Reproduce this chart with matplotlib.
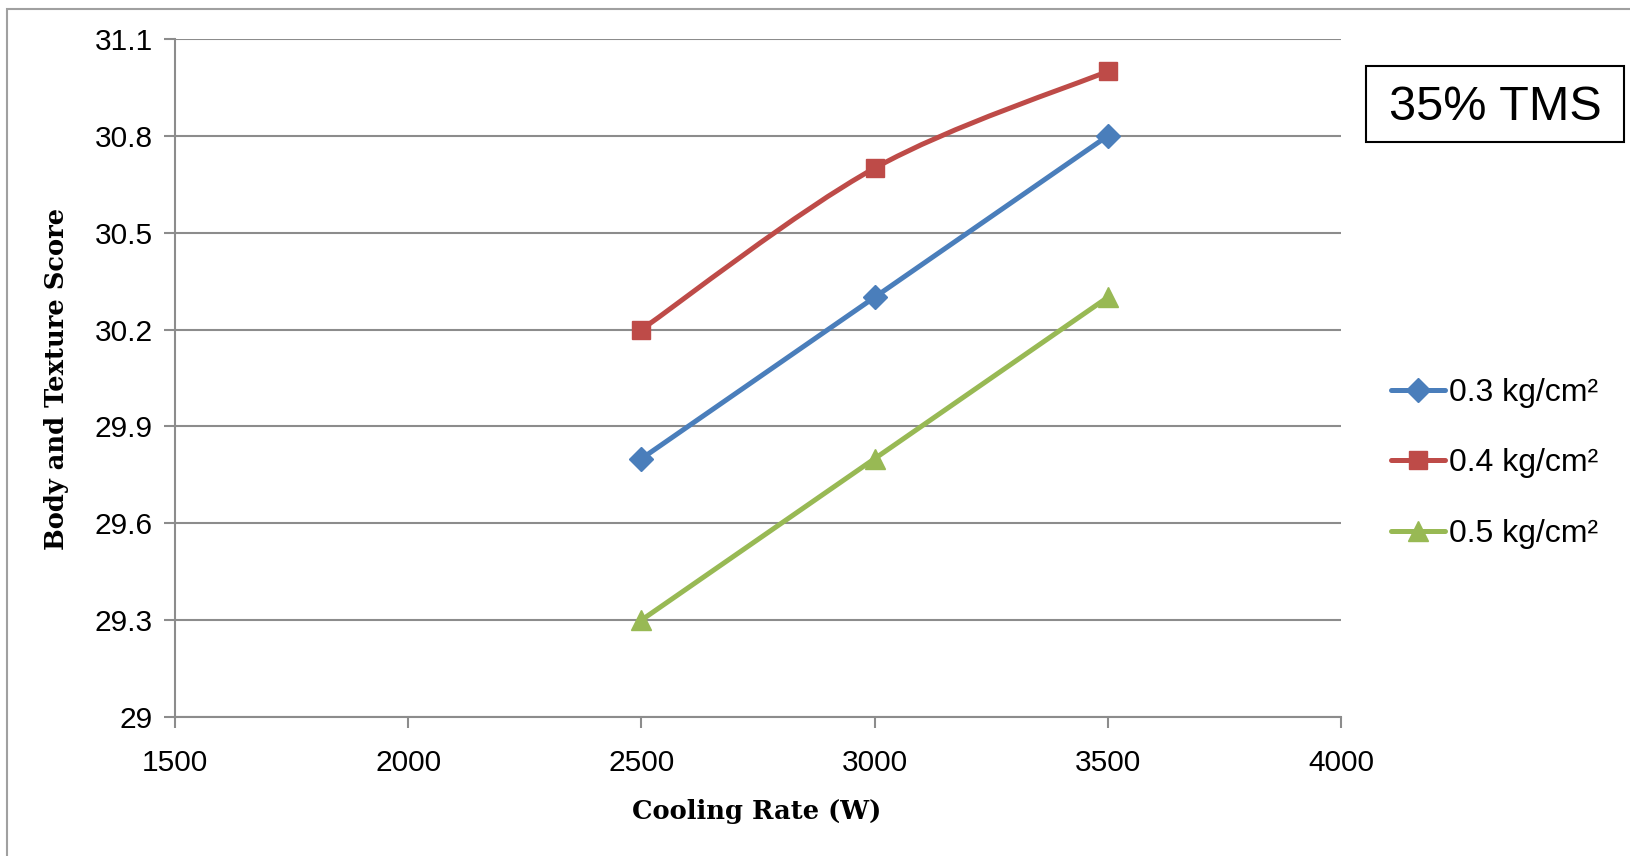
import matplotlib.pyplot as plt
from matplotlib.path import Path
from matplotlib.patches import PathPatch, Rectangle
from matplotlib.lines import Line2D

# data
cooling_rate = [2500, 3000, 3500]
score_03 = [29.8, 30.3, 30.8]
score_04 = [30.2, 30.7, 31.0]
score_05 = [29.3, 29.8, 30.3]
labels = ['0.3 kg/cm²', '0.4 kg/cm²', '0.5 kg/cm²']
yticks = [29, 29.3, 29.6, 29.9, 30.2, 30.5, 30.8, 31.1]
xticks = [1500, 2000, 2500, 3000, 3500, 4000]

blue = '#4A7EBB'
red = '#BE4B48'
green = '#98B954'
grid_c = '#8C8C8C'


def smooth_path(x, y):
    # excel style smoothed line: bezier segments through the points
    pts = list(zip(x, y))
    n = len(pts)
    verts = [pts[0]]
    codes = [Path.MOVETO]
    for i in range(n - 1):
        p0 = pts[max(i - 1, 0)]
        p1 = pts[i]
        p2 = pts[i + 1]
        p3 = pts[min(i + 2, n - 1)]
        c1 = (p1[0] + (p2[0] - p0[0]) / 6, p1[1] + (p2[1] - p0[1]) / 6)
        c2 = (p2[0] - (p3[0] - p1[0]) / 6, p2[1] - (p3[1] - p1[1]) / 6)
        verts += [c1, c2, p2]
        codes += [Path.CURVE4] * 3
    return Path(verts, codes)


plt.rcParams['font.family'] = ['Liberation Sans', 'DejaVu Sans']

fig = plt.figure(figsize=(16.3, 8.56), dpi=100)
ax = fig.add_axes([175 / 1630, 1 - 717 / 856, (1341 - 175) / 1630, (717 - 39) / 856])

# outer frame of the chart area (right and bottom edges fall outside the image)
fig.patches.append(Rectangle((7 / 1630, -0.05), 1.1, 1.05 - 9 / 856,
                             transform=fig.transFigure, fill=False,
                             edgecolor='#A0A0A0', lw=1.5))

series = [(score_03, blue, 'D', 12.5), (score_04, red, 's', 13), (score_05, green, '^', 14)]
handles = []
for (vals, c, m, ms), lab in zip(series, labels):
    ax.add_patch(PathPatch(smooth_path(cooling_rate, vals), fill=False,
                           edgecolor=c, lw=3.6, capstyle='round', zorder=3))
    ax.plot(cooling_rate, vals, ls='none', marker=m, color=c, ms=ms, zorder=4)
    handles.append(Line2D([], [], color=c, lw=3.6, marker=m, ms=ms,
                          solid_capstyle='round'))

ax.set_xlim(1500, 4000)
ax.set_ylim(29, 31.1)
ax.set_xticks(xticks)
ax.set_yticks(yticks)
ax.set_yticklabels(['29' if v == 29 else f'{v:.1f}' for v in yticks])
ax.tick_params(labelsize=21.5, colors=grid_c, labelcolor='black', width=1.5,
               length=8, direction='out')
ax.tick_params(axis='x', pad=15)
ax.tick_params(axis='y', pad=8)
ax.grid(axis='y', color=grid_c, lw=1.5)
ax.set_axisbelow(True)
for s in ['top', 'right']:
    ax.spines[s].set_visible(False)
for s in ['left', 'bottom']:
    ax.spines[s].set_color(grid_c)
    ax.spines[s].set_linewidth(1.5)

fig.text(757 / 1630, 1 - 812 / 856, 'Cooling Rate (W)', ha='center', va='center',
         family='DejaVu Serif', fontweight='bold', fontsize=18.5)
fig.text(57 / 1630, 1 - 379 / 856, 'Body and Texture Score', ha='center', va='center',
         rotation=90, family='DejaVu Serif', fontweight='bold', fontsize=18.5)

fig.legend(handles, labels, loc='upper left', bbox_to_anchor=(1378 / 1630, 1 - 365 / 856),
           frameon=False, fontsize=23, handlelength=1.7, handletextpad=0.12,
           labelspacing=1.27, borderaxespad=0)

# label box
fig.patches.append(Rectangle((1366 / 1630, 1 - 142 / 856), 258 / 1630, 76 / 856,
                             transform=fig.transFigure, fc='white', ec='black', lw=1.5))
fig.text(1495 / 1630, 1 - 107 / 856, '35% TMS', ha='center', va='center', fontsize=35)

fig.savefig('out.png', dpi=100)
